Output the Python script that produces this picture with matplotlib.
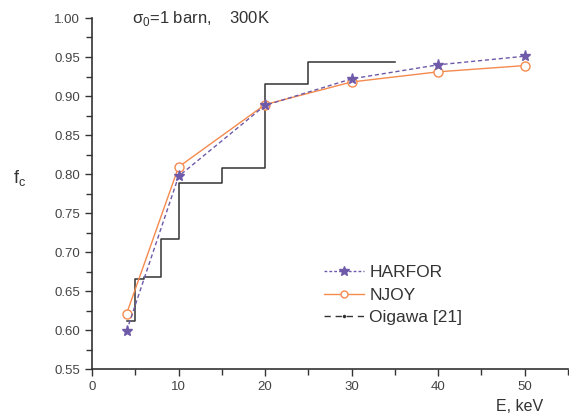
import matplotlib
matplotlib.use("Agg")
import matplotlib.pyplot as plt
from matplotlib.lines import Line2D
from matplotlib.ticker import MultipleLocator

plt.rcParams['font.family'] = ['Liberation Sans', 'DejaVu Sans']
plt.rcParams['mathtext.fontset'] = 'custom'
plt.rcParams['mathtext.rm'] = 'Liberation Sans'

energy = [4, 10, 20, 30, 40, 50]
harfor = [0.599, 0.797, 0.888, 0.922, 0.940, 0.951]
njoy = [0.621, 0.809, 0.889, 0.918, 0.931, 0.939]
oig_edges = [4, 5, 6, 8, 10, 15, 20, 25, 35]
oig_vals = [0.612, 0.665, 0.668, 0.717, 0.789, 0.808, 0.916, 0.943, 0.943]

purple = '#6e5aa8'
orange = '#f58a4e'
dark = '#333333'

fig = plt.figure(figsize=(5.69, 4.19), dpi=100)
ax = fig.add_axes([92/569, 1-369/419, 476/569, (369-18)/419])

ax.step(oig_edges, oig_vals, where='post', color=dark, lw=1.1)
ax.plot(energy, njoy, color=orange, lw=1.0, marker='o', ms=6.5,
        mfc='white', mec=orange, mew=1.0)
ax.plot(energy, harfor, color=purple, lw=1.0, ls=(0, (3, 2)), marker='*', ms=8,
        mfc=purple, mec=purple)

ax.set_xlim(0, 55)
ax.set_ylim(0.55, 1.00)
ax.xaxis.set_major_locator(MultipleLocator(10))
ax.xaxis.set_minor_locator(MultipleLocator(5))
ax.yaxis.set_major_locator(MultipleLocator(0.05))
ax.yaxis.set_minor_locator(MultipleLocator(0.025))
ax.yaxis.set_major_formatter(plt.FormatStrFormatter('%.2f'))
for s in ['top', 'right']:
    ax.spines[s].set_visible(False)
for s in ['left', 'bottom']:
    ax.spines[s].set_color(dark)
    ax.spines[s].set_linewidth(1.2)
ax.tick_params(which='both', direction='out', color=dark, width=1.0,
               labelsize=9.5, labelcolor='#444444')
ax.tick_params(which='major', length=5)
ax.tick_params(which='minor', length=4)

fig.text(132/569, 1-18/419, 'σ$_\\mathrm{0}$=1 barn,    300K', fontsize=12, color='#333333',
         va='center', ha='left')
fig.text(20/569, 1-178/419, 'f$_\\mathrm{c}$', fontsize=13, color='#333333',
         ha='center', va='center')
fig.text(520/569, 1-406/419, 'E, keV', fontsize=11.5, color='#333333',
         ha='center', va='center')

handles = [
    Line2D([], [], color=purple, lw=1.0, ls=(0, (2, 1.5)), marker='*', ms=7, mfc=purple, mec=purple),
    Line2D([], [], color=orange, lw=1.0, marker='o', ms=5, mfc='white', mec=orange),
    Line2D([], [], color=dark, lw=1.0, ls=(0, (4.5, 3.5)), marker='.', ms=3),
]
ax.legend(handles, ['HARFOR', 'NJOY', 'Oigawa [21]'], loc='upper left',
          bbox_to_anchor=(0.455, 0.34), frameon=False, fontsize=12.5,
          handlelength=2.3, handletextpad=0.3, labelspacing=0.42,
          labelcolor='#333333')

fig.savefig('out.png', dpi=100)
